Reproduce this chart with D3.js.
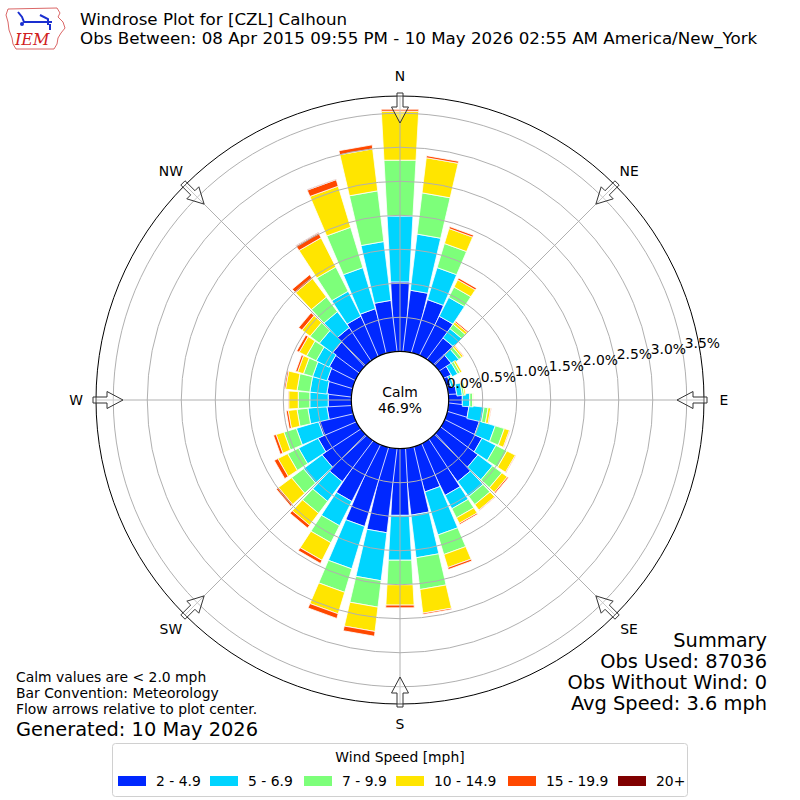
<!DOCTYPE html>
<html>
<head>
<meta charset="utf-8">
<script src="https://cdn.jsdelivr.net/npm/d3@7"></script>
<style>
body { margin: 0; background: #fff; }
text { font-family: "DejaVu Sans", sans-serif; fill: #000; }
</style>
</head>
<body>
<div id="chart"></div>
<script>
// wind directions (deg, meteorological) and percent of obs per speed bin
const directions = d3.range(0, 360, 10);
const speedBins = ['2 - 4.9', '5 - 6.9', '7 - 9.9', '10 - 14.9', '15 - 19.9', '20+'];
const binColors = ['#0028ff', '#00d4ff', '#7dff7a', '#ffe500', '#ff4800', '#800000'];

const pct2to5 = [1.02,0.90,0.81,0.64,0.39,0.21,0.12,0.06,0.12,0.20,0.30,0.49,0.61,0.68,0.75,0.83,0.68,0.98,
                 0.98,1.24,1.21,0.93,0.75,0.68,0.61,0.52,0.36,0.34,0.36,0.39,0.43,0.49,0.58,0.64,0.67,0.75];
const pct5to7 = [0.97,0.83,0.49,0.31,0.17,0.12,0.09,0.04,0.08,0.11,0.22,0.24,0.23,0.27,0.27,0.22,0.66,0.63,
                 0.66,0.71,0.65,0.40,0.36,0.34,0.32,0.34,0.28,0.27,0.25,0.22,0.21,0.24,0.29,0.41,0.63,0.87];
const pct7to10 = [0.82,0.61,0.37,0.17,0.08,0.05,0.04,0.01,0.03,0.04,0.06,0.14,0.18,0.17,0.15,0.15,0.30,0.47,
                  0.36,0.39,0.36,0.28,0.22,0.22,0.18,0.19,0.16,0.17,0.19,0.14,0.16,0.17,0.27,0.40,0.62,0.75];
const pct10to15 = [0.72,0.52,0.23,0.12,0.04,0.03,0.03,0.01,0.02,0.01,0.04,0.08,0.14,0.10,0.10,0.09,0.20,0.35,
                   0.30,0.36,0.33,0.29,0.22,0.24,0.16,0.12,0.13,0.14,0.17,0.09,0.12,0.15,0.34,0.48,0.63,0.62];
const pct15to20 = [0.03,0.03,0.03,0.03,0.02,0.01,0.00,0.00,0.00,0.00,0.01,0.01,0.01,0.02,0.01,0.02,0.03,0.02,
                   0.04,0.07,0.07,0.05,0.05,0.04,0.06,0.04,0.03,0.01,0.02,0.03,0.04,0.06,0.07,0.08,0.10,0.06];
const pct20up = [0,0,0,0,0,0,0,0,0,0,0,0,0,0,0,0,0,0,
                 0,0,0,0,0,0,0,0,0,0,0,0,0,0,0,0.01,0.01,0];

const calmPct = 46.9;
const rTicks = [0, 0.5, 1.0, 1.5, 2.0, 2.5, 3.0, 3.5];
const compass = ['N', 'NE', 'E', 'SE', 'S', 'SW', 'W', 'NW'];
const summaryLines = ['Summary', 'Obs Used: 87036', 'Obs Without Wind: 0', 'Avg Speed: 3.6 mph'];
const noteLines = ['Calm values are < 2.0 mph', 'Bar Convention: Meteorology', 'Flow arrows relative to plot center.'];

const width = 800;
const height = 800;
const cx = 400;
const cy = 400;
const calmRadius = 48.7;
const outerRadius = 304;
const gridColor = '#b0b0b0';
const smallFont = '13.9px';
const bigFont = '19.4px';

const rScale = d3.scaleLinear().domain([0, 3.754]).range([calmRadius, outerRadius]);
const aScale = d3.scaleLinear().domain([0, 360]).range([0, 2 * Math.PI]);

const svg = d3.select('#chart').append('svg')
    .attr('width', width)
    .attr('height', height);

// rows for the stack
const keys = ['b0', 'b1', 'b2', 'b3', 'b4', 'b5'];
const binArrays = [pct2to5, pct5to7, pct7to10, pct10to15, pct15to20, pct20up];
const rows = directions.map((d, i) => {
    const row = {dir: d};
    keys.forEach((k, j) => row[k] = binArrays[j][i]);
    return row;
});
const series = d3.stack().keys(keys)(rows);

// bar half width grows a bit slower than a true wedge
const halfWidth = r => 2.9 + 0.0547 * r;

function barPoints(dir, r0, r1) {
    const a = aScale(dir);
    const ux = Math.sin(a), uy = -Math.cos(a);
    const vx = Math.cos(a), vy = Math.sin(a);
    const p = (r, s) => [cx + r * ux + s * halfWidth(r) * vx, cy + r * uy + s * halfWidth(r) * vy];
    return [p(r0, -1), p(r1, -1), p(r1, 1), p(r0, 1)];
}

const bars = svg.append('g');
series.forEach((s, k) => {
    bars.append('g')
        .selectAll('polygon')
        .data(s.filter(d => d[1] - d[0] > 0))
        .join('polygon')
        .attr('points', d => barPoints(d.data.dir, k === 0 ? rScale(d[0]) - 6 : rScale(d[0]), rScale(d[1])).join(' '))
        .attr('fill', binColors[k])
        .attr('stroke', '#fff')
        .attr('stroke-width', 0.8);
});

// grid on top of bars
const grid = svg.append('g');
grid.selectAll('circle')
    .data(rTicks)
    .join('circle')
    .attr('cx', cx)
    .attr('cy', cy)
    .attr('r', d => rScale(d))
    .attr('fill', 'none')
    .attr('stroke', gridColor)
    .attr('stroke-width', 1);

grid.selectAll('line')
    .data(d3.range(0, 360, 45))
    .join('line')
    .attr('x1', cx)
    .attr('y1', cy)
    .attr('x2', d => cx + outerRadius * Math.sin(aScale(d)))
    .attr('y2', d => cy - outerRadius * Math.cos(aScale(d)))
    .attr('stroke', gridColor)
    .attr('stroke-width', 1);

svg.append('circle')
    .attr('cx', cx)
    .attr('cy', cy)
    .attr('r', outerRadius)
    .attr('fill', 'none')
    .attr('stroke', '#000')
    .attr('stroke-width', 1);

// calm circle
svg.append('circle')
    .attr('cx', cx)
    .attr('cy', cy)
    .attr('r', calmRadius)
    .attr('fill', '#fff')
    .attr('stroke', '#000')
    .attr('stroke-width', 1.2);

svg.append('text')
    .attr('x', cx)
    .attr('y', cy - 3)
    .attr('text-anchor', 'middle')
    .style('font-size', smallFont)
    .text('Calm');
svg.append('text')
    .attr('x', cx)
    .attr('y', cy + 13)
    .attr('text-anchor', 'middle')
    .style('font-size', smallFont)
    .text(calmPct.toFixed(1) + '%');

// radial tick labels
svg.append('g')
    .selectAll('text')
    .data(rTicks)
    .join('text')
    .attr('x', d => cx + rScale(d) - 2)
    .attr('y', d => cy - 17 - (rScale(d) - calmRadius) * 0.168)
    .attr('dy', '0.35em')
    .style('font-size', smallFont)
    .text(d => d.toFixed(1) + '%');

// compass labels
svg.append('g')
    .selectAll('text')
    .data(compass)
    .join('text')
    .attr('x', (d, i) => cx + 324 * Math.sin(aScale(i * 45)))
    .attr('y', (d, i) => cy - 324 * Math.cos(aScale(i * 45)))
    .attr('dy', '0.35em')
    .attr('text-anchor', 'middle')
    .style('font-size', smallFont)
    .text(d => d);

// flow arrows pointing to center
const arrowShape = [[307, -3], [293, -3], [293, -8.5], [277, 0], [293, 8.5], [293, 3], [307, 3]];
svg.append('g')
    .selectAll('polygon')
    .data(d3.range(0, 360, 45))
    .join('polygon')
    .attr('points', d => {
        const a = aScale(d);
        const ux = Math.sin(a), uy = -Math.cos(a);
        const vx = Math.cos(a), vy = Math.sin(a);
        return arrowShape.map(([r, s]) => [cx + r * ux + s * vx, cy + r * uy + s * vy]).join(' ');
    })
    .attr('fill', 'rgba(255,255,255,0.3)')
    .attr('stroke', '#333')
    .attr('stroke-width', 1);

// title
svg.append('text')
    .attr('x', 80)
    .attr('y', 25)
    .style('font-size', '16.7px')
    .text('Windrose Plot for [CZL] Calhoun');
svg.append('text')
    .attr('x', 80)
    .attr('y', 43.5)
    .style('font-size', '16.7px')
    .text('Obs Between: 08 Apr 2015 09:55 PM - 10 May 2026 02:55 AM America/New_York');

// IEM logo (rough)
const logo = svg.append('g');
logo.append('path')
    .attr('d', 'M8,9 L57,8 L60,13 L58,17 L63,22 L65,28 L61,33 L58,38 L57,44 L54,49 L16,49 L13,44 L12,38 L9,30 L8,22 L6,15 Z')
    .attr('fill', 'none')
    .attr('stroke', '#d04040')
    .attr('stroke-width', 0.8);
logo.append('path')
    .attr('d', 'M18,12 L22,17 L24,22 L48,22 M40,15 L48,19 L48,25 M48,22 L52,22 M50,24 L50,30')
    .attr('fill', 'none')
    .attr('stroke', '#1a2fd0')
    .attr('stroke-width', 2);
logo.append('circle').attr('cx', 22).attr('cy', 24).attr('r', 2).attr('fill', '#1a2fd0');
logo.append('text')
    .attr('x', 15)
    .attr('y', 45)
    .style('font-family', '"DejaVu Serif", "Liberation Serif", serif')
    .style('font-style', 'italic')
    .style('font-size', '16px')
    .style('fill', '#d02020')
    .text('IEM');

// notes bottom left
svg.append('g')
    .selectAll('text')
    .data(noteLines)
    .join('text')
    .attr('x', 16)
    .attr('y', (d, i) => 682 + i * 16)
    .style('font-size', smallFont)
    .text(d => d);
svg.append('text')
    .attr('x', 16)
    .attr('y', 736)
    .style('font-size', bigFont)
    .text('Generated: 10 May 2026');

// summary bottom right
svg.append('g')
    .selectAll('text')
    .data(summaryLines)
    .join('text')
    .attr('x', 767)
    .attr('y', (d, i) => 646.5 + i * 21.3)
    .attr('text-anchor', 'end')
    .style('font-size', bigFont)
    .text(d => d);

// legend
const legend = svg.append('g');
legend.append('rect')
    .attr('x', 112.5)
    .attr('y', 743.5)
    .attr('width', 575)
    .attr('height', 53)
    .attr('rx', 3)
    .attr('fill', '#fff')
    .attr('stroke', '#d0d0d0');
legend.append('text')
    .attr('x', 400)
    .attr('y', 757)
    .attr('dy', '0.35em')
    .attr('text-anchor', 'middle')
    .style('font-size', smallFont)
    .text('Wind Speed [mph]');
const legendX = [118, 210, 304, 396, 508, 618];
const item = legend.selectAll('g.item')
    .data(speedBins)
    .join('g')
    .attr('class', 'item')
    .attr('transform', (d, i) => `translate(${legendX[i]}, 781)`);
item.append('rect')
    .attr('x', 0)
    .attr('y', -5)
    .attr('width', 28)
    .attr('height', 10)
    .attr('fill', (d, i) => binColors[i]);
item.append('text')
    .attr('x', 38)
    .attr('y', 0)
    .attr('dy', '0.35em')
    .style('font-size', smallFont)
    .text(d => d);
</script>
</body>
</html>
